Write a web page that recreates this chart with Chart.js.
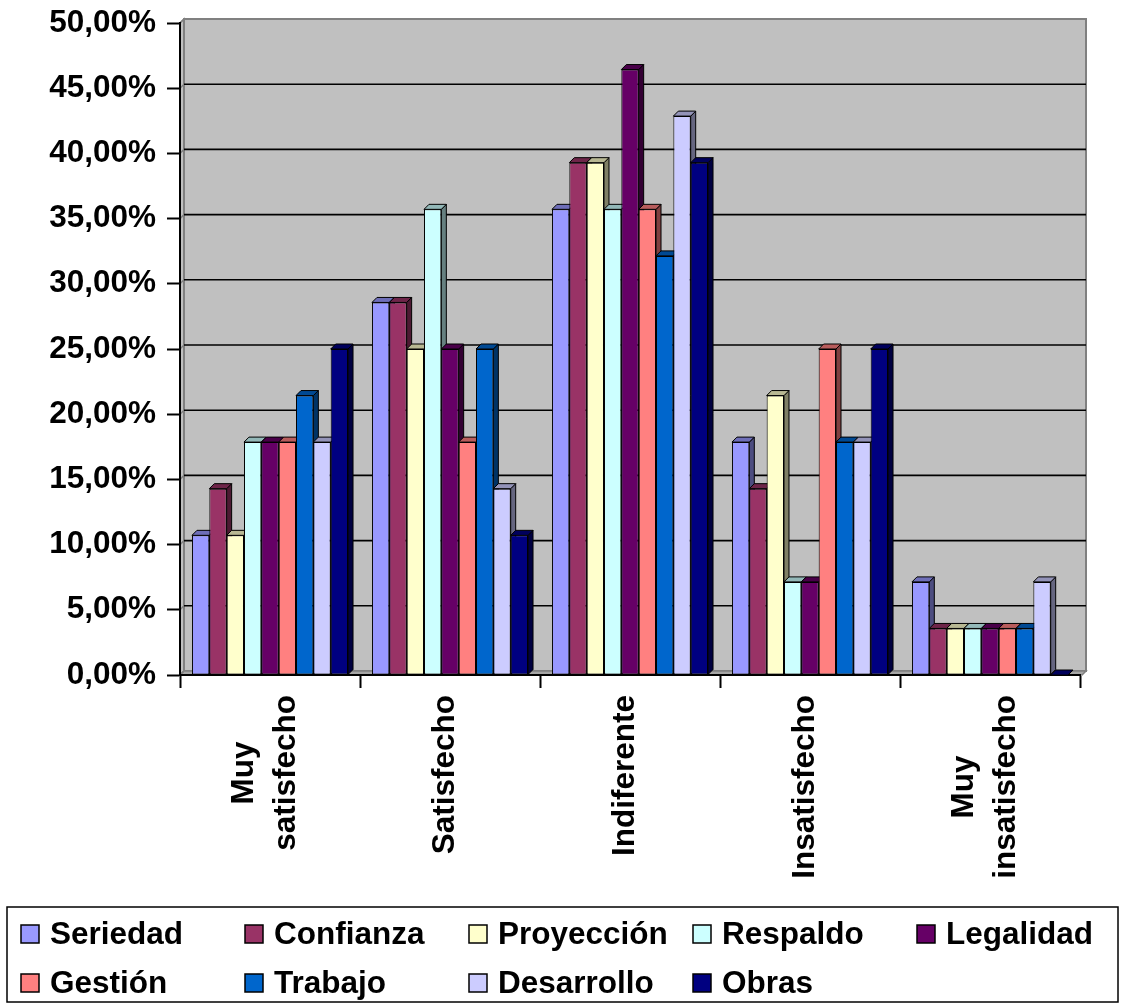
<!DOCTYPE html>
<html>
<head>
<meta charset="utf-8">
<title>Nivel de satisfacción</title>
<script src="https://cdn.jsdelivr.net/npm/chart.js@4.4.1/dist/chart.umd.min.js"></script>
<style>
  body { margin: 0; background: #fff; }
  #wrap { width: 1126px; height: 1005px; }
</style>
</head>
<body>
<div id="wrap"><canvas id="chart"></canvas></div>
<script>
// categories (multi-line ones as arrays)
const categories = [['Muy', 'satisfecho'], 'Satisfecho', 'Indiferente', 'Insatisfecho', ['Muy', 'insatisfecho']];

// percentages per series
const seriedad   = [10.71, 28.57, 35.71, 17.86, 7.14];
const confianza  = [14.29, 28.57, 39.29, 14.29, 3.57];
const proyeccion = [10.71, 25.00, 39.29, 21.43, 3.57];
const respaldo   = [17.86, 35.71, 35.71, 7.14, 3.57];
const legalidad  = [17.86, 25.00, 46.43, 7.14, 3.57];
const gestion    = [17.86, 17.86, 35.71, 25.00, 3.57];
const trabajo    = [21.43, 25.00, 32.14, 17.86, 3.57];
const desarrollo = [17.86, 14.29, 42.86, 17.86, 7.14];
const obras      = [25.00, 10.71, 39.29, 25.00, 0.00];

const seriesNames = ['Seriedad', 'Confianza', 'Proyección', 'Respaldo', 'Legalidad', 'Gestión', 'Trabajo', 'Desarrollo', 'Obras'];
const seriesData = [seriedad, confianza, proyeccion, respaldo, legalidad, gestion, trabajo, desarrollo, obras];
const seriesColors = ['#9999FF', '#993366', '#FFFFCC', '#CCFFFF', '#660066', '#FF8080', '#0066CC', '#CCCCFF', '#000080'];

const yTicks = { min: 0, max: 50, step: 5 };

const FONT = 'bold 31.5px "Liberation Sans", Arial, sans-serif';
const DEPTH = 5;      // bar depth
const WALL = 4;       // back wall offset

function shade(hex, k) {
  const n = parseInt(hex.slice(1), 16);
  const r = Math.round(((n >> 16) & 255) * k);
  const g = Math.round(((n >> 8) & 255) * k);
  const b = Math.round((n & 255) * k);
  return `rgb(${r},${g},${b})`;
}

function poly(ctx, pts, fill, stroke, lw) {
  ctx.beginPath();
  ctx.moveTo(pts[0][0], pts[0][1]);
  for (let i = 1; i < pts.length; i++) ctx.lineTo(pts[i][0], pts[i][1]);
  ctx.closePath();
  if (fill) { ctx.fillStyle = fill; ctx.fill(); }
  if (stroke) { ctx.strokeStyle = stroke; ctx.lineWidth = lw || 1; ctx.stroke(); }
}

// gray back wall, side strip, floor and wall gridlines
const wallPlugin = {
  id: 'wall',
  beforeDraw(chart) {
    const ctx = chart.ctx;
    const { left, right } = chart.chartArea;
    const y = chart.scales.y;
    const yTop = y.getPixelForValue(yTicks.max);
    const y0 = y.getPixelForValue(0);
    ctx.save();
    // side strip between axis and wall
    poly(ctx, [[left, yTop], [left + WALL, yTop - WALL], [left + WALL, y0 - WALL], [left, y0]], '#C0C0C0', '#808080', 1.5);
    // back wall
    poly(ctx, [[left + WALL, yTop - WALL], [right + 6, yTop - WALL], [right + 6, y0 - WALL], [left + WALL, y0 - WALL]], '#C0C0C0', '#808080', 2);
    // floor
    poly(ctx, [[left, y0], [left + WALL, y0 - WALL], [right + 6, y0 - WALL], [right + 2, y0]], '#A6A6A6', '#808080', 1.5);
    // gridlines on the wall
    y.ticks.forEach(t => {
      const py = y.getPixelForValue(t.value);
      ctx.strokeStyle = '#808080';
      ctx.lineWidth = 1.5;
      ctx.beginPath();
      ctx.moveTo(left, py);
      ctx.lineTo(left + WALL, py - WALL);
      ctx.stroke();
      if (t.value > 0 && t.value < yTicks.max) {
        ctx.strokeStyle = '#000';
        ctx.lineWidth = 1.6;
        ctx.beginPath();
        ctx.moveTo(left + WALL, py - WALL);
        ctx.lineTo(right + 6, py - WALL);
        ctx.stroke();
      }
    });
    ctx.restore();
  }
};

// top and side faces of the columns
const depthPlugin = {
  id: 'depth',
  beforeDatasetsDraw(chart) {
    const ctx = chart.ctx;
    ctx.save();
    ctx.lineJoin = 'round';
    categories.forEach((_, j) => {
      seriesData.forEach((_, i) => {
        const bar = chart.getDatasetMeta(i).data[j];
        const { x, y, base, width } = bar.getProps(['x', 'y', 'base', 'width'], true);
        const l = x - width / 2, r = x + width / 2, d = DEPTH;
        const c = seriesColors[i];
        poly(ctx, [[r, y], [r + d, y - d], [r + d, base - d], [r, base]], shade(c, 0.5), '#000', 1);
        poly(ctx, [[l, y], [l + d, y - d], [r + d, y - d], [r, y]], shade(c, 0.72), '#000', 1);
      });
    });
    ctx.restore();
  }
};

// rotated category labels and boxed legend
const labelsPlugin = {
  id: 'labels',
  afterDraw(chart) {
    const ctx = chart.ctx;
    const xs = chart.scales.x;
    ctx.save();
    ctx.font = FONT;
    ctx.fillStyle = '#000';
    ctx.textAlign = 'center';
    ctx.textBaseline = 'middle';
    const top = xs.top + 20;
    categories.forEach((cat, j) => {
      const lines = Array.isArray(cat) ? cat : [cat];
      const w = Math.max(...lines.map(s => ctx.measureText(s).width));
      const cx = xs.getPixelForValue(j) - 5;
      lines.forEach((s, k) => {
        ctx.save();
        ctx.translate(cx + (k - (lines.length - 1) / 2) * 42, top + w / 2);
        ctx.rotate(-Math.PI / 2);
        ctx.fillText(s, 0, 0);
        ctx.restore();
      });
    });

    // legend
    ctx.strokeStyle = '#000';
    ctx.lineWidth = 1.5;
    ctx.strokeRect(7, 907, 1111, 95);
    ctx.textAlign = 'left';
    seriesNames.forEach((name, i) => {
      const col = i % 5, row = Math.floor(i / 5);
      const bx = 21 + 224 * col, by = 925 + 49 * row;
      ctx.fillStyle = seriesColors[i];
      ctx.fillRect(bx, by, 18, 18);
      ctx.lineWidth = 1.5;
      ctx.strokeRect(bx, by, 18, 18);
      ctx.fillStyle = '#000';
      ctx.fillText(name, bx + 29, by + 10);
    });
    ctx.restore();
  }
};

new Chart(document.getElementById('chart'), {
  type: 'bar',
  data: {
    labels: categories,
    datasets: seriesNames.map((name, i) => ({
      label: name,
      data: seriesData[i],
      backgroundColor: seriesColors[i],
      borderColor: '#000',
      borderWidth: 1,
      borderSkipped: false,
      categoryPercentage: 0.867,
      barPercentage: 1
    }))
  },
  options: {
    responsive: true,
    maintainAspectRatio: false,
    animation: false,
    layout: { padding: { top: 23, right: 46, left: 0, bottom: 0 } },
    plugins: { legend: { display: false }, tooltip: { enabled: false } },
    scales: {
      x: {
        ticks: { display: false },
        grid: { drawOnChartArea: false, drawTicks: true, tickLength: 13, tickColor: '#000', tickWidth: 2, offset: true },
        border: { display: true, color: '#000', width: 2 },
        afterFit(scale) { scale.height = 330; }
      },
      y: {
        min: yTicks.min,
        max: yTicks.max,
        ticks: {
          stepSize: yTicks.step,
          color: '#000',
          padding: 11,
          font: { family: '"Liberation Sans", Arial, sans-serif', size: 31.5, weight: 'bold' },
          callback: v => v.toFixed(2).replace('.', ',') + '%'
        },
        grid: { drawOnChartArea: false, drawTicks: true, tickLength: 13, tickColor: '#000', tickWidth: 2 },
        border: { display: true, color: '#000', width: 2 },
        afterFit(scale) {
          scale.width = 180;
          scale.paddingTop = 0;
          scale.paddingBottom = 0;
        }
      }
    }
  },
  plugins: [wallPlugin, depthPlugin, labelsPlugin]
});
</script>
</body>
</html>
